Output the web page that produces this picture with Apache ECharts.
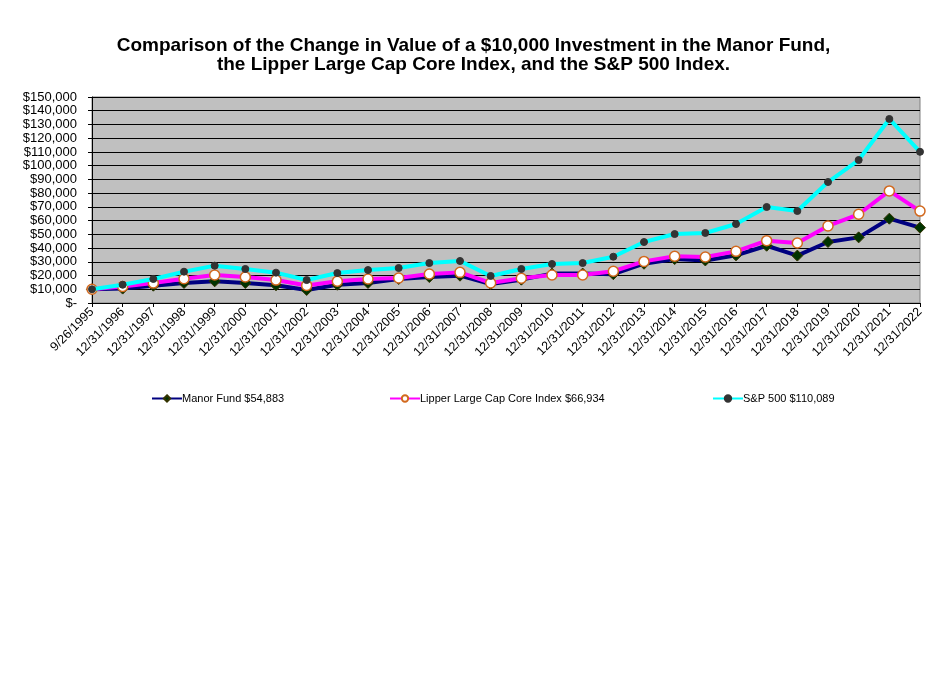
<!DOCTYPE html>
<html><head><meta charset="utf-8">
<script src="https://cdn.jsdelivr.net/npm/echarts@6/dist/echarts.min.js"></script>
<style>html,body{margin:0;padding:0;background:#fff}#c{width:947px;height:683px}</style>
</head><body><div id="c"></div>
<script>
const categories = ['9/26/1995','12/31/1996','12/31/1997','12/31/1998','12/31/1999','12/31/2000','12/31/2001','12/31/2002','12/31/2003','12/31/2004','12/31/2005','12/31/2006','12/31/2007','12/31/2008','12/31/2009','12/31/2010','12/31/2011','12/31/2012','12/31/2013','12/31/2014','12/31/2015','12/31/2016','12/31/2017','12/31/2018','12/31/2019','12/31/2020','12/31/2021','12/31/2022'];
const manorFund = [10000,10500,12600,14600,15800,14600,12900,9500,13300,14600,17500,18900,19900,13800,17000,21400,21400,21000,28600,32000,31000,34700,41700,34500,44400,47800,61400,54883];
const lipper = [10000,12000,14500,17700,20400,18900,16700,12800,15800,17500,18200,21100,22300,14600,18000,20400,20400,23100,30300,34000,33500,37600,45400,43700,56100,64600,81600,66934];
const sp500 = [10000,13300,17500,22800,27200,24800,22100,16700,21800,24000,25500,29100,30600,19700,24800,28400,29100,33700,44400,50200,51000,57500,69900,67000,88100,104100,134000,110089];
const seriesNames = ['Manor Fund $54,883','Lipper Large Cap Core Index $66,934','S&P 500 $110,089'];
const titleLines = ['Comparison of the Change in Value of a $10,000 Investment in the Manor Fund,','the Lipper Large Cap Core Index, and the S&P 500 Index.'];

const font = 'Arial, "Liberation Sans", sans-serif';
const chart = echarts.init(document.getElementById('c'));
function legend(name, left){
  return {data:[name], left:left, top:388, itemWidth:30, itemHeight:8, itemGap:0,
    textStyle:{fontFamily:font, fontSize:11, color:'#000', padding:[0,0,0,-5]}};
}
chart.setOption({
  backgroundColor:'#fff',
  animation:false,
  title:{text:titleLines.join('\n'), left:'center', top:31,
    textStyle:{fontFamily:font, fontSize:19, fontWeight:'bold', color:'#000', lineHeight:19}},
  legend:[legend(seriesNames[0],146), legend(seriesNames[1],384), legend(seriesNames[2],707)],
  grid:{left:92, right:27, top:97, bottom:380, backgroundColor:'#c0c0c0', show:true, borderColor:'#808080', borderWidth:1},
  xAxis:{type:'category', data:categories, boundaryGap:false,
    axisLine:{lineStyle:{color:'#000', width:1}},
    axisTick:{show:true, alignWithLabel:true, length:4, lineStyle:{color:'#000'}},
    axisLabel:{rotate:45, fontFamily:font, fontSize:12.5, color:'#000', margin:7, interval:0}},
  yAxis:{type:'value', min:0, max:150000, interval:10000,
    axisLine:{show:true, lineStyle:{color:'#000'}},
    axisTick:{show:true, length:4, lineStyle:{color:'#000'}},
    splitLine:{lineStyle:{color:'#000', width:1}},
    axisLabel:{fontFamily:font, fontSize:13, color:'#000', margin:15,
      formatter:v=> v===0 ? '$-' : '$'+v.toLocaleString('en-US')}},
  series:[
    {name:seriesNames[0], type:'line', data:manorFund, symbol:'diamond', symbolSize:11,
      lineStyle:{color:'#000080', width:4}, itemStyle:{color:'#003300', borderColor:'#333300', borderWidth:1}, z:2},
    {name:seriesNames[1], type:'line', data:lipper, symbol:'circle', symbolSize:10,
      lineStyle:{color:'#ff00ff', width:4}, itemStyle:{color:'#ffffff', borderColor:'#d2691e', borderWidth:1.5}, z:3},
    {name:seriesNames[2], type:'line', data:sp500, symbol:'circle', symbolSize:7,
      lineStyle:{color:'#00ffff', width:4}, itemStyle:{color:'#333333', borderColor:'#333333', borderWidth:1}, z:4}
  ]
});
</script></body></html>
